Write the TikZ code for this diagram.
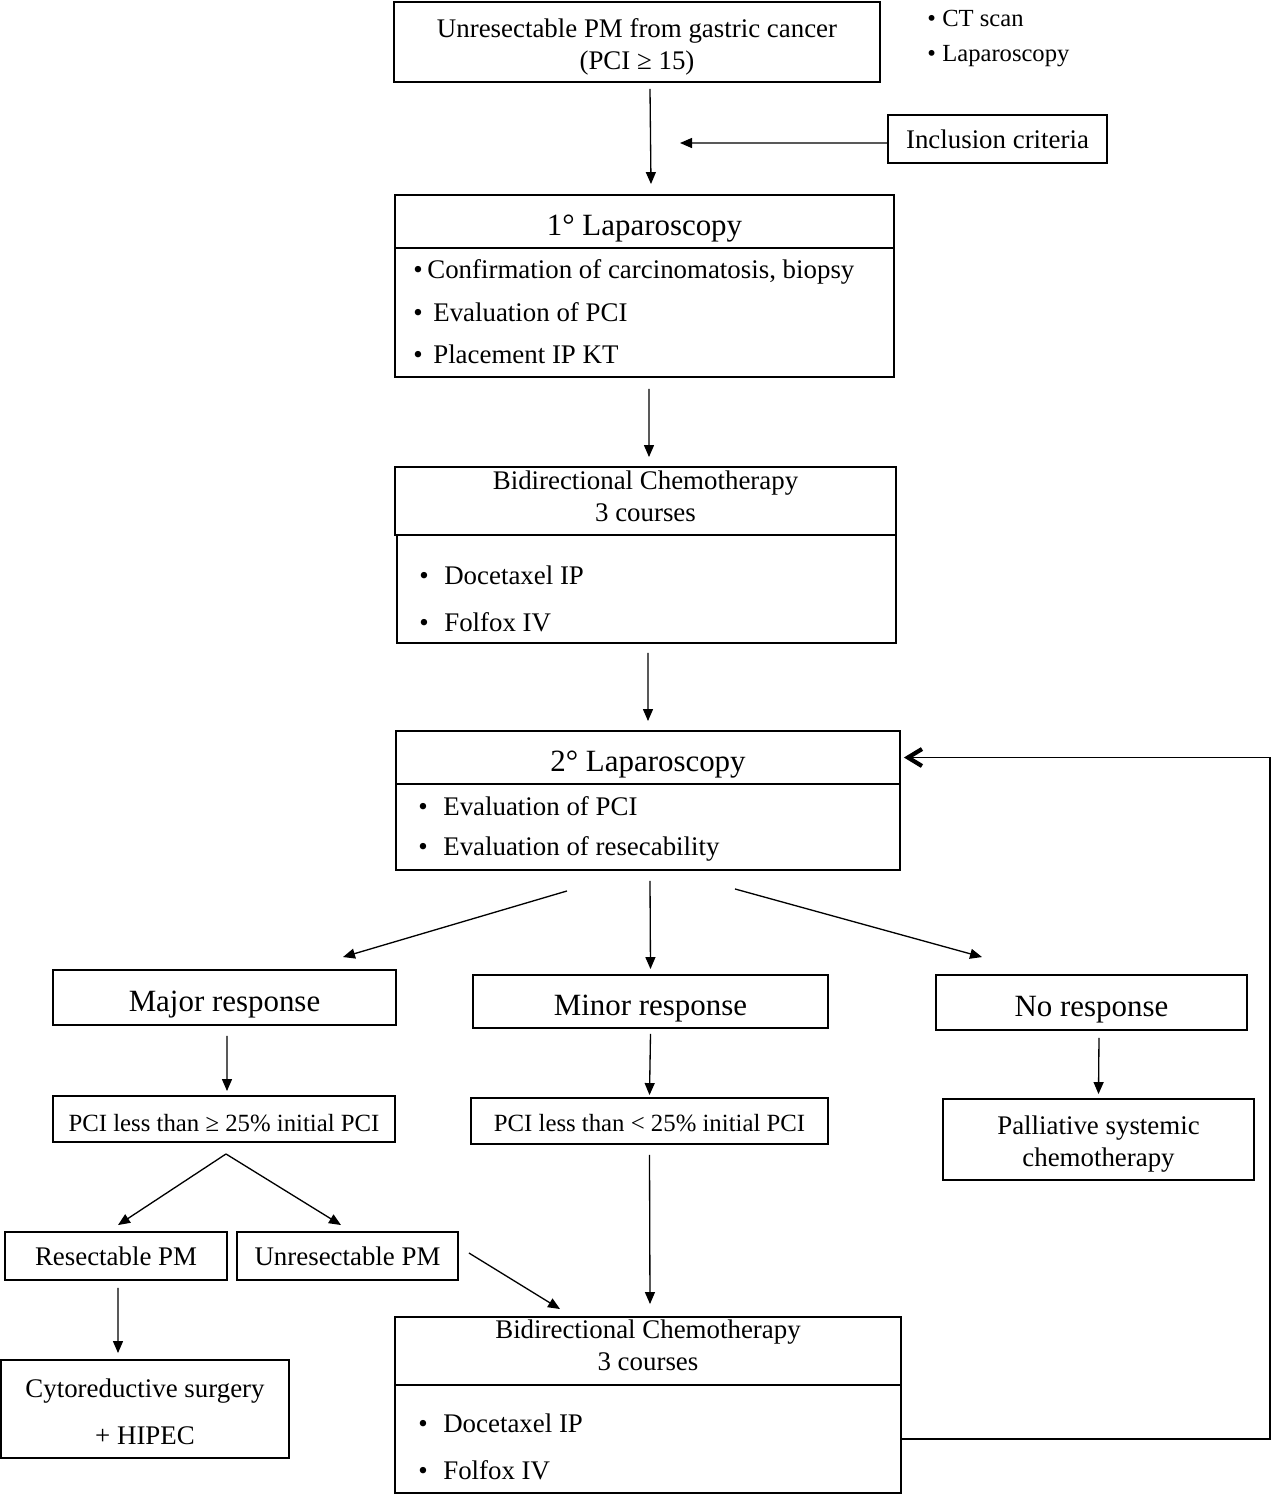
\documentclass[tikz,border=0pt]{standalone}
\usepackage{fontspec}
\setmainfont{Liberation Serif}
\usetikzlibrary{arrows.meta}
\newcommand{\itm}[2][0.4cm]{\makebox[#1][l]{\textbullet}#2}

\begin{document}
\begin{tikzpicture}[x=0.02cm, y=-0.02cm]
\tikzset{boite/.style={draw, line width=1.1pt, inner sep=0pt, align=center, font=\fontsize{15.3}{18.2}\selectfont},
  titre/.style={boite, font=\fontsize{17.6}{21}\selectfont, text height=19.6pt, text depth=3.8pt},
  petit/.style={boite, font=\fontsize{14.1}{17}\selectfont, text depth=0pt},
  texte/.style={inner sep=0pt, align=center, font=\fontsize{15.3}{18.2}\selectfont},
  ligne/.style={anchor=west, inner sep=0pt, font=\fontsize{15.3}{18}\selectfont},
  fleche/.style={-{Triangle[length=0.24cm, width=0.2cm]}, line width=0.75pt},
  retour/.style={-{Straight Barb[length=0.28cm, width=0.34cm, line width=2.4pt]}, line width=0.75pt}}
\useasboundingbox (0,0) rectangle (1280,1495);
% top of the chart
\node[boite, minimum width=9.72cm, minimum height=1.6cm] (top) at (637,42) {};
\node[texte] (topt) at (637,47) {Unresectable PM from gastric cancer\\(PCI ≥ 15)};
\node[ligne, font=\fontsize{14}{17}\selectfont] (ct) at (927,18) {\itm[0.3cm]{CT scan}};
\node[ligne, font=\fontsize{14}{17}\selectfont] (lap) at (927,56) {\itm[0.3cm]{Laparoscopy}};
\node[boite, minimum width=4.38cm, minimum height=0.96cm] (incl) at (997.5,139) {Inclusion criteria};
\coordinate (critere) at (680,143);
% first laparoscopy
\node[titre, minimum width=9.98cm, minimum height=1.06cm] (lap1h) at (644.5,221.5) {1° Laparoscopy};
\node[boite, minimum width=9.98cm, minimum height=2.58cm] (lap1b) at (644.5,312.5) {};
\node[ligne] (l1a) at (413,272) {\itm[0.28cm]{Confirmation of carcinomatosis, biopsy}};
\node[ligne] (l1b) at (413,312) {\itm{Evaluation of PCI}};
\node[ligne] (l1c) at (413,354) {\itm{Placement IP KT}};
% first chemotherapy
\node[boite, minimum width=10.02cm, minimum height=1.36cm] (chemo1h) at (645.5,501) {};
\node[texte] (chemo1t) at (645.5,496) {Bidirectional Chemotherapy\\3 courses};
\node[boite, minimum width=9.98cm, minimum height=2.16cm] (chemo1b) at (646.5,589) {};
\node[ligne] (c1a) at (419,575) {\itm[0.5cm]{Docetaxel IP}};
\node[ligne] (c1b) at (419,622) {\itm[0.5cm]{Folfox IV}};
% second laparoscopy
\node[titre, minimum width=10.08cm, minimum height=1.06cm] (lap2h) at (648,757.5) {2° Laparoscopy};
\node[boite, minimum width=10.08cm, minimum height=1.72cm] (lap2b) at (648,827) {};
\node[ligne] (l2a) at (418,806) {\itm[0.5cm]{Evaluation of PCI}};
\node[ligne] (l2b) at (418,849) {\itm[0.5cm]{Evaluation of resecability}};
% responses
\node[titre, minimum width=6.86cm, minimum height=1.1cm] (major) at (224.5,997.5) {Major response};
\node[titre, minimum width=7.1cm, minimum height=1.06cm] (minor) at (650.5,1001.5) {Minor response};
\node[titre, minimum width=6.22cm, minimum height=1.1cm] (nores) at (1091.5,1002.5) {No response};
\node[petit, text height=14pt, minimum width=6.84cm, minimum height=0.92cm] (pcimaj) at (224,1119) {PCI less than ≥ 25\% initial PCI};
\node[petit, text height=12pt, minimum width=7.14cm, minimum height=0.92cm] (pcimin) at (649.5,1121) {PCI less than < 25\% initial PCI};
\node[boite, minimum width=6.22cm, minimum height=1.62cm] (pall) at (1098.5,1139.5) {};
\node[texte] (pallt) at (1098.5,1144.5) {Palliative systemic\\chemotherapy};
\node[boite, minimum width=4.44cm, minimum height=0.96cm] (resec) at (116,1256) {Resectable PM};
\node[boite, minimum width=4.42cm, minimum height=0.96cm] (unres) at (347.5,1256) {Unresectable PM};
\node[boite, minimum width=5.76cm, minimum height=1.96cm] (cyto) at (145,1409) {};
\node[texte, font=\fontsize{15.3}{26.8}\selectfont] (cytot) at (145,1411.5) {Cytoreductive surgery\\+ HIPEC};
% second chemotherapy
\node[boite, minimum width=10.12cm, minimum height=1.36cm] (chemo2h) at (648,1351) {};
\node[texte] (chemo2t) at (648,1345.5) {Bidirectional Chemotherapy\\3 courses};
\node[boite, minimum width=10.12cm, minimum height=2.16cm] (chemo2b) at (648,1439) {};
\node[ligne] (c2a) at (418,1423) {\itm[0.5cm]{Docetaxel IP}};
\node[ligne] (c2b) at (418,1470) {\itm[0.5cm]{Folfox IV}};
\coordinate (boucle) at (1270,757.5);
% arrows
\draw[fleche] ([xshift=0.26cm, yshift=-0.12cm]top.south) -- ([xshift=0.13cm, yshift=0.2cm]lap1h.north);
\draw[fleche] ([yshift=-0.08cm]incl.west) -- (critere);
\draw[fleche] ([xshift=0.09cm, yshift=-0.22cm]lap1b.south) -- ([xshift=0.07cm, yshift=0.18cm]chemo1h.north);
\draw[fleche] ([xshift=0.03cm, yshift=-0.18cm]chemo1b.south) -- ([yshift=0.18cm]lap2h.north);
\draw[fleche] ([xshift=-1.62cm, yshift=-0.4cm]lap2b.south) -- ([xshift=2.37cm, yshift=0.24cm]major.north);
\draw[fleche] ([xshift=0.04cm, yshift=-0.2cm]lap2b.south) -- ([yshift=0.1cm]minor.north);
\draw[fleche] ([xshift=1.74cm, yshift=-0.36cm]lap2b.south) -- ([xshift=-2.19cm, yshift=0.34cm]nores.north);
\draw[fleche] ([xshift=0.05cm, yshift=-0.2cm]major.south) -- ([xshift=0.06cm, yshift=0.08cm]pcimaj.north);
\draw[fleche] ([yshift=-0.1cm]minor.south) -- ([yshift=0.04cm]pcimin.north);
\draw[fleche] ([xshift=0.15cm, yshift=-0.14cm]nores.south) -- ([yshift=0.08cm]pall.north);
\draw[fleche] ([xshift=0.04cm, yshift=-0.22cm]pcimaj.south) -- ([xshift=0.04cm, yshift=0.12cm]resec.north);
\draw[fleche] ([xshift=0.04cm, yshift=-0.22cm]pcimaj.south) -- ([xshift=-0.13cm, yshift=0.12cm]unres.north);
\draw[fleche] ([xshift=0.04cm, yshift=-0.14cm]resec.south) -- ([xshift=-0.54cm, yshift=0.12cm]cyto.north);
\draw[fleche] ([xshift=0.2cm, yshift=0.06cm]unres.east) -- ([xshift=-1.76cm, yshift=0.14cm]chemo2h.north);
\draw[fleche] ([yshift=-0.2cm]pcimin.south) -- ([xshift=0.04cm, yshift=0.24cm]chemo2h.north);
\draw[retour] (chemo2b.east) -| (boucle) -- ([xshift=0.06cm]lap2h.east);
\end{tikzpicture}
\end{document}
